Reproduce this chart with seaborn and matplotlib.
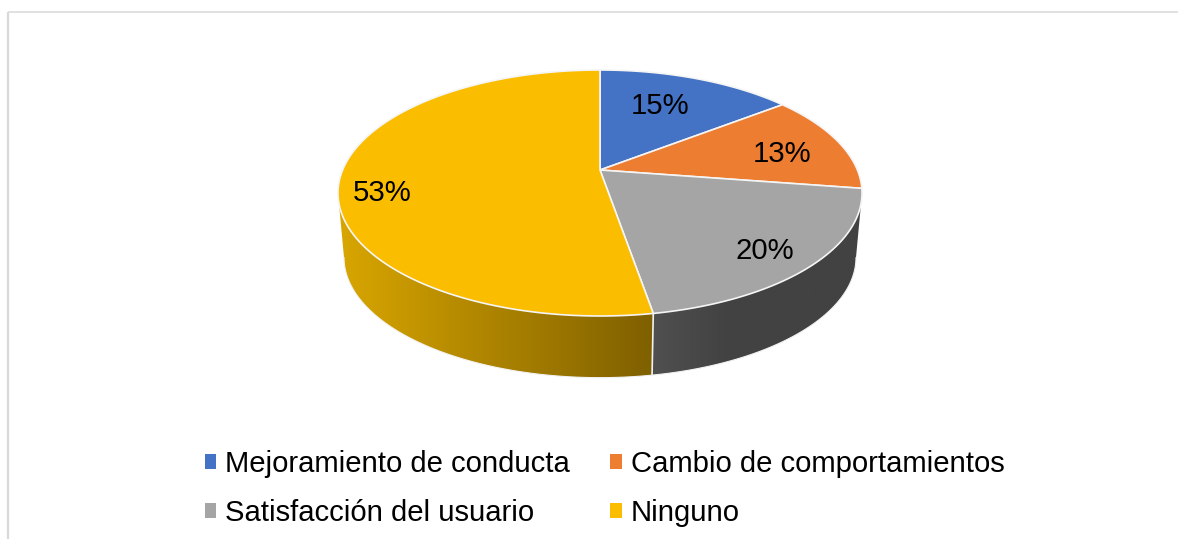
import numpy as np
import seaborn as sns
import matplotlib.pyplot as plt
from matplotlib.patches import Patch, Polygon
from matplotlib.colors import LinearSegmentedColormap

categories = ['Mejoramiento de conducta', 'Cambio de comportamientos', 'Satisfacción del usuario', 'Ninguno']
shares = [14.5, 12.9, 19.9, 52.7]
pct_labels = ['15%', '13%', '20%', '53%']

sns.set_theme(style='white')
plt.rcParams['font.family'] = ['Liberation Sans', 'DejaVu Sans']
palette = sns.color_palette(['#4472C4', '#ED7D31', '#A5A5A5', '#FBBD00'])

CX, CY = 600, 170
DROP = 65
SHRINK = 0.977
K = 0.187
A, B = 257.4, 118.7

# rim points of the tilted disc, angle runs clockwise from the top
def rim(theta, cy=CY, scale=1.0):
    t = np.radians(theta)
    w = 1 + K * np.cos(t)
    return CX + scale * A * np.sin(t) / w, cy - scale * B * np.cos(t) / w

fig, ax = plt.subplots(figsize=(11.78, 5.39), dpi=100)
ax.set_position([0, 0, 1, 1])

# side wall, only the front part shows
cuts = 360 * np.cumsum([0] + shares) / sum(shares)
left_edge = 360 - np.degrees(np.arccos(-K))
right_edge = np.degrees(np.arccos(-K))
sides = [
    (right_edge, cuts[3], [(0, '#525252'), (0.4, '#424242'), (1, '#424242')], (640, 862)),
    (cuts[3], left_edge, [(0, '#D9A600'), (0.92, '#7F6000'), (1, '#7F6000')], (338, 680)),
]
for t0, t1, cols, xr in sides:
    th = np.linspace(t0, t1, 120)
    xt, yt = rim(th)
    xb, yb = rim(th[::-1], CY + DROP, SHRINK)
    poly = Polygon(np.column_stack([np.r_[xt, xb], np.r_[yt, yb]]), closed=True, fc='none', ec='none')
    ax.add_patch(poly)
    ramp = np.linspace(0, 1, 256)[None, :]
    cm = LinearSegmentedColormap.from_list('side', cols, N=256)
    im = ax.imshow(ramp, extent=[xr[0], xr[1], 400, 100], cmap=cm, aspect='auto', zorder=1)
    im.set_clip_path(poly)
    ax.plot(xb, yb, color='#f2f2f2', lw=0.8, zorder=2)

# seam between the two visible walls
xs, ys = rim(cuts[3])
xs2, ys2 = rim(cuts[3], CY + DROP, SHRINK)
ax.plot([xs, xs2], [ys, ys2], color='#f2f2f2', lw=1.2, zorder=2)

# top face
for i, col in enumerate(palette):
    th = np.linspace(cuts[i], cuts[i + 1], 160)
    x, y = rim(th)
    ax.add_patch(Polygon(np.column_stack([np.r_[CX, x], np.r_[CY, y]]), closed=True,
                         fc=col, ec='#f5f5f5', lw=1.2, zorder=3))

label_xy = [(660, 106), (782, 154), (765, 251), (382, 193)]
for txt, (lx, ly) in zip(pct_labels, label_xy):
    ax.text(lx, ly, txt, fontsize=21.2, color='black', ha='center', va='center', zorder=4)

# chart frame, open on the right and bottom
ax.plot([8, 8], [539, 11.5], color='#d9d9d9', lw=1.6, zorder=0, solid_capstyle='butt')
ax.plot([8, 1178], [11.5, 11.5], color='#d9d9d9', lw=1.1, zorder=0, solid_capstyle='butt')

handles = [Patch(fc=c, ec='none') for c in palette]
ax.set_xlim(0, 1178)
ax.set_ylim(539, 0)
ax.axis('off')
# legend fills by column, the reference reads by row
order = [0, 2, 1, 3]
ax.legend([handles[i] for i in order], [categories[i] for i in order], ncol=2, loc='upper left',
          bbox_to_anchor=(205, 450), bbox_transform=ax.transData, frameon=False, fontsize=21.1,
          labelcolor='black', borderpad=0, borderaxespad=0, handlelength=0.38, handleheight=0.38,
          handletextpad=0.31, columnspacing=1.38, labelspacing=0.71)

plt.savefig('out.png', dpi=100)
